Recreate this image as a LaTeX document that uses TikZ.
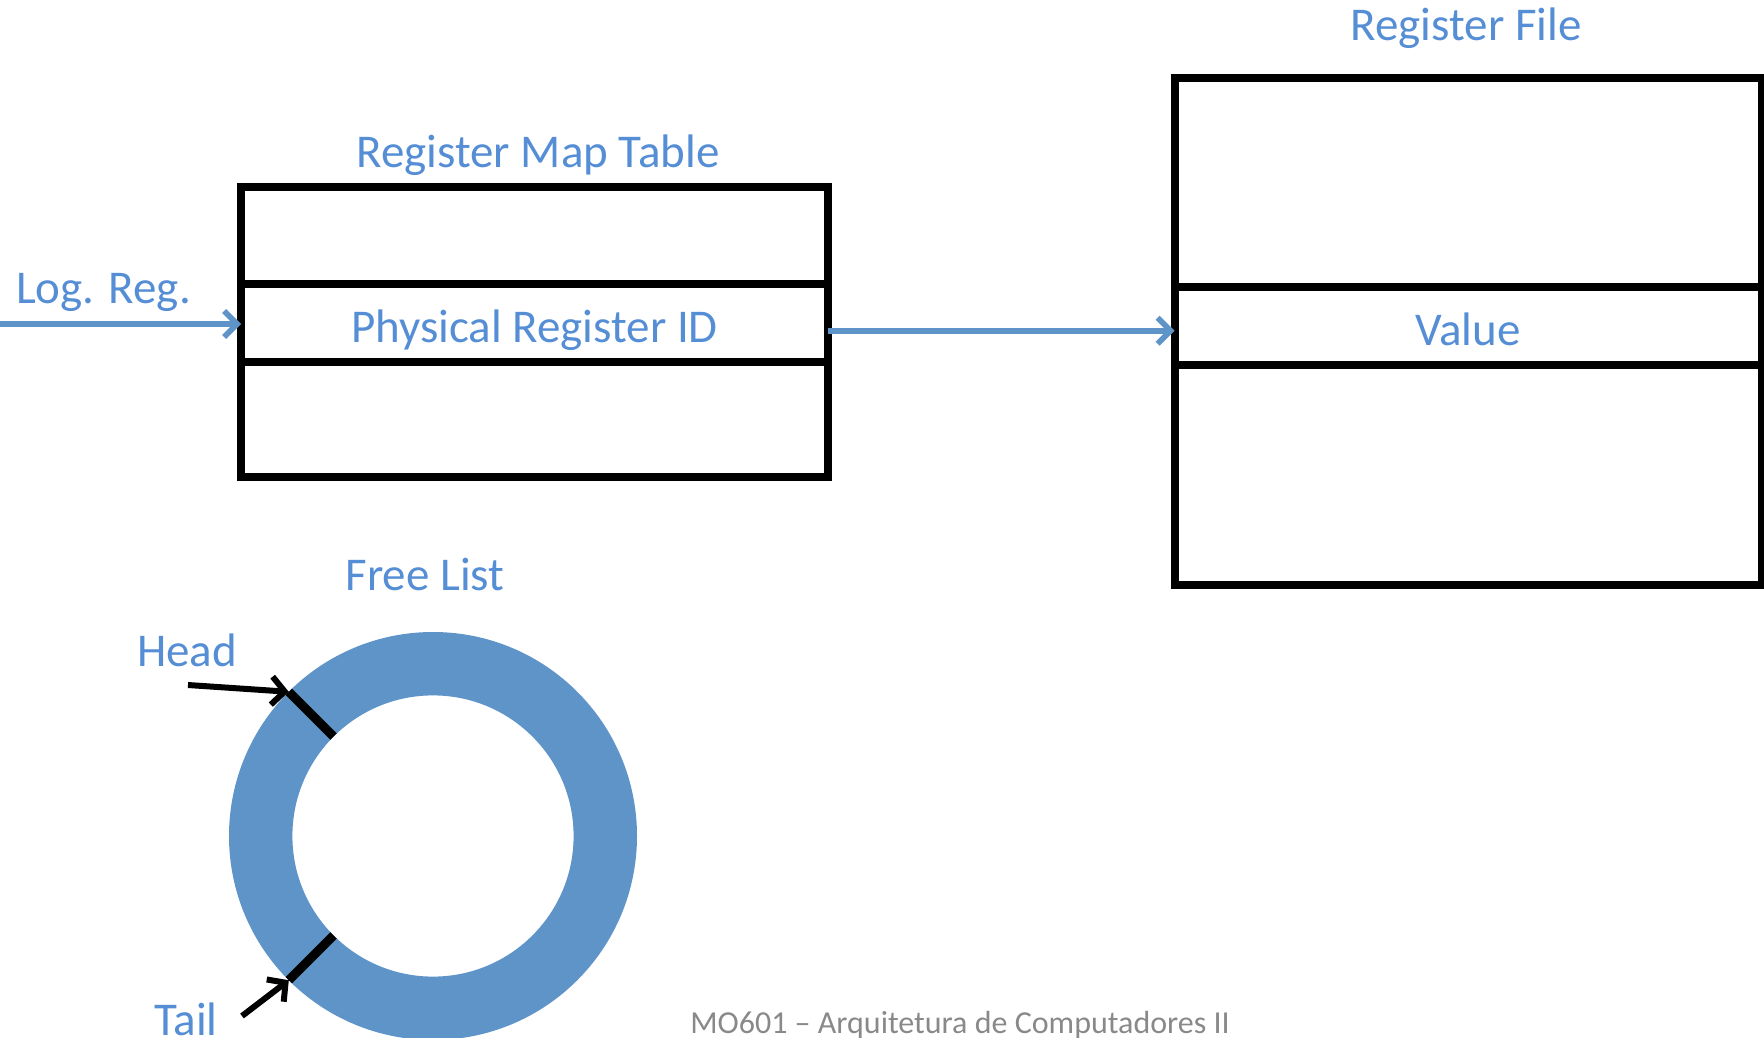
\documentclass[tikz,border=0pt]{standalone}
\usepackage{fontspec}
\setmainfont{Carlito}
\usetikzlibrary{positioning,arrows.meta,calc}
\definecolor{txtblue}{RGB}{85,142,213}
\definecolor{ringblue}{RGB}{94,148,200}
\definecolor{footgray}{RGB}{137,137,137}
\tikzset{
  row/.style={draw,line width=8pt,minimum width=587pt,inner sep=0pt,outer sep=0pt,
    font=\fontsize{47}{56}\selectfont,text=txtblue,text height=50pt,text depth=10pt},
  title/.style={font=\fontsize{47}{56}\selectfont,text=txtblue,inner sep=0pt},
  bluearrow/.style={draw=ringblue,line width=5.5pt,-{Straight Barb[length=13pt,width=26pt]}},
  blackarrow/.style={draw=black,line width=6pt,-{Straight Barb[length=13pt,width=28pt]}},
  marker/.style={line width=9pt},
}
\begin{document}
\begin{tikzpicture}[x=1pt,y=-1pt]
    \useasboundingbox (0,0) rectangle (1764,1038);

    % register map table
    \node[row,minimum height=96.5pt,anchor=north] (rmttop) at (534.5,187) {};
    \node[row,minimum height=78.5pt,below=0pt of rmttop] (rmtmid) {Physical Register ID};
    \node[row,minimum height=115pt,below=0pt of rmtmid] (rmtbot) {};
    \node[title] (rmtlbl) at (538,155) {Register Map Table};

    % register file
    \node[row,minimum height=209.4pt,anchor=north] (rftop) at (1468,77.6) {};
    \node[row,minimum height=77.5pt,below=0pt of rftop] (rfmid) {Value};
    \node[row,minimum height=220.5pt,below=0pt of rfmid] (rfbot) {};
    \node[title] (rflbl) at (1466,28) {Register File};

    % arrows
    \node[title] (loglbl) at (103.5,292) {Log. Reg.};
    \coordinate (login) at (0,324);
    \draw[bluearrow] (login) -- (login -| rmtmid.west);
    \draw[bluearrow] ([yshift=-8pt]rmtmid.east) -- ([yshift=-5pt]rfmid.west);

    % free list
    \node[title] (fllbl) at (425,574) {Free List};
    \coordinate (fl) at (433,836);
    \fill[ringblue,even odd rule] (fl) circle[radius=204pt] (fl) circle[radius=140.6pt];
    \coordinate (headout) at (288.8,691.8);
    \coordinate (headin) at (333.6,736.6);
    \coordinate (tailout) at (288.8,980.2);
    \coordinate (tailin) at (333.6,935.4);
    \draw[marker] (headout) -- (headin);
    \draw[marker] (tailout) -- (tailin);

    \node[title] (headlbl) at (187,650) {Head};
    \node[title,anchor=base] (taillbl) at (186,1035) {Tail};
    \coordinate (headfrom) at (188,685);
    \coordinate (tailfrom) at (242,1016);
    \draw[blackarrow] (headfrom) -- (headout);
    \draw[blackarrow] (tailfrom) -- (tailout);

    \node[font=\fontsize{32}{38}\selectfont,text=footgray,anchor=base] (footer) at (960,1033)
        {MO601 – Arquitetura de Computadores II};
\end{tikzpicture}
\end{document}
